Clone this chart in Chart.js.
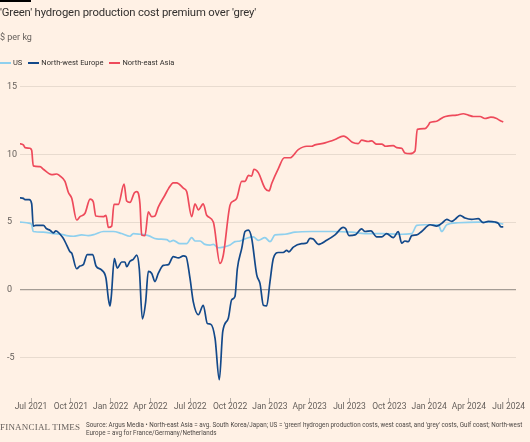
<!DOCTYPE html>
<html>
<head>
<meta charset="utf-8">
<script src="https://cdn.jsdelivr.net/npm/chart.js@4"></script>
<style>
  body { margin: 0; background: #fff1e5; font-family: Roboto, "Noto Sans", sans-serif; }
  #wrap { position: relative; width: 530px; height: 442px; overflow: hidden; }
  #chart { position: absolute; left: 0; top: 0; }
  .bar { position: absolute; left: 0; top: 0; width: 31px; height: 2px; background: #000; }
  .title { position: absolute; left: 0; top: 6px; font-size: 11.3px; letter-spacing: -0.15px; color: #33302e; white-space: nowrap; }
  .sub { position: absolute; left: 0; top: 32px; font-size: 9px; color: #66605c; }
  .legend { position: absolute; left: 0; top: 58px; font-size: 7.5px; color: #33302e; display: flex; }
  .legend span { display: flex; align-items: center; margin-right: 6px; }
  .legend i { display: inline-block; width: 11px; height: 2px; margin-right: 2px; }
  .ft { position: absolute; left: 0; top: 422px; font-family: "Liberation Serif", "DejaVu Serif", serif; font-size: 9px; color: #66605c; letter-spacing: 0.2px; }
  .src { position: absolute; left: 86px; top: 421px; font-size: 6.3px; line-height: 8px; color: #4d4845; white-space: nowrap; }
</style>
</head>
<body>
<div id="wrap">
  <canvas id="chart" width="530" height="442"></canvas>
  <div class="bar"></div>
  <div class="title">'Green' hydrogen production cost premium over 'grey'</div>
  <div class="sub">$ per kg</div>
  <div class="legend" id="legend"></div>
  <div class="ft">FINANCIAL TIMES</div>
  <div class="src">Source: Argus Media • North-east Asia = avg. South Korea/Japan; US = 'green' hydrogen production costs, west coast, and 'grey' costs, Gulf coast; North-west<br>Europe = avg for France/Germany/Netherlands</div>
</div>
<script>
// x values are months since 1 Jul 2021
const tickMonths = [0, 3, 6, 9, 12, 15, 18, 21, 24, 27, 30, 33, 36];
const tickLabels = ["Jul 2021", "Oct 2021", "Jan 2022", "Apr 2022", "Jul 2022", "Oct 2022", "Jan 2023",
  "Apr 2023", "Jul 2023", "Oct 2023", "Jan 2024", "Apr 2024", "Jul 2024"];

const usMonths = [-0.9, -0.08, 0.05, 0.17, 0.93, 1.68, 2.31, 2.69, 3.19, 3.82, 4.32, 4.82, 5.45, 6.2, 6.83,
  7.46, 7.71, 8.21, 8.84, 9.47, 10.23, 10.47, 10.72, 11.23, 11.73, 12.11, 12.36, 12.74, 13.11, 13.49, 13.74,
  14.11, 14.49, 15.0, 15.37, 15.75, 16.25, 16.75, 17.13, 17.63, 18.01, 18.39, 19.14, 19.89, 21.15, 22.66,
  24.17, 25.17, 26.43, 27.68, 28.69, 29.07, 29.69, 30.69, 30.95, 31.33, 32.2, 33.71, 34.72, 35.59];
const usValues = [5.0, 4.9, 4.8, 4.3, 4.25, 4.15, 4.1, 4.0, 3.95, 4.05, 4.0, 4.1, 4.3, 4.3, 4.15,
  3.95, 4.15, 4.1, 4.0, 3.75, 3.7, 3.55, 3.65, 3.4, 3.4, 3.85, 3.6, 3.6, 3.35, 3.3, 3.35,
  3.1, 3.15, 3.3, 3.55, 3.6, 3.8, 3.9, 3.65, 3.85, 3.55, 4.05, 4.1, 4.25, 4.3, 4.3,
  4.25, 4.15, 4.15, 4.1, 4.15, 4.75, 4.8, 4.8, 4.3, 4.8, 4.95, 5.0, 5.0, 4.85];

const nweMonths = [-0.9, -0.58, -0.45, -0.13, 0.05, 0.17, 0.35, 0.93, 1.18, 1.43, 1.68, 1.88, 2.19, 2.43, 2.69,
  2.94, 3.07, 3.44, 3.69, 3.94, 4.24, 4.65, 4.9, 5.33, 5.65, 5.83, 5.95, 6.05, 6.28, 6.5, 6.83, 7.08, 7.21,
  7.46, 7.71, 7.97, 8.16, 8.39, 8.64, 8.84, 9.1, 9.34, 9.59, 9.97, 10.35, 10.72, 11.1, 11.48, 11.68, 11.98,
  12.23, 12.61, 12.98, 13.29, 13.54, 13.87, 14.19, 14.45, 14.87, 15.12, 15.37, 15.55, 15.88, 16.13, 16.38,
  16.63, 17.01, 17.26, 17.51, 17.76, 18.01, 18.26, 18.64, 19.01, 19.27, 19.44, 19.77, 20.4, 20.78, 21.02,
  21.27, 21.65, 22.28, 22.91, 23.53, 23.72, 23.96, 24.42, 24.92, 25.17, 25.62, 26.05, 26.43, 26.8, 27.3,
  27.68, 27.93, 28.18, 28.43, 28.69, 29.07, 29.44, 30.07, 30.57, 30.95, 31.33, 31.7, 31.95, 32.33, 32.71,
  33.21, 33.71, 34.08, 34.46, 34.97, 35.22, 35.42, 35.59];
const nweValues = [6.8, 6.75, 6.65, 6.65, 6.35, 4.7, 4.75, 4.75, 4.5, 4.4, 4.2, 4.35, 4.1, 3.8, 3.3,
  2.8, 2.7, 1.55, 1.75, 1.85, 2.6, 2.6, 1.75, 1.45, 0.85, -0.65, -1.2, -0.5, 2.3, 1.6, 2.05, 2.05, 1.7,
  2.1, 2.25, 2.55, 1.55, -2.15, -0.9, 1.35, 1.2, 0.6, 1.2, 1.8, 1.85, 2.45, 2.35, 2.5, 2.45, 0.85,
  -0.9, -1.85, -1.15, -2.5, -2.55, -3.6, -6.65, -3.1, -2.1, -0.75, -0.5, 1.55, 3.05, 4.3, 4.4,
  3.8, 1.1, 0.45, -1.15, -1.2, 0.6, 2.3, 2.75, 2.75, 2.9, 2.8, 3.15, 3.4, 3.45, 3.8,
  3.75, 3.35, 3.65, 4.05, 4.6, 4.5, 4.0, 4.05, 4.5, 4.3, 4.35, 3.9, 3.9, 4.15, 3.85,
  4.3, 3.45, 3.6, 3.55, 4.0, 4.05, 4.3, 4.8, 4.7, 4.9, 5.2, 5.05, 5.2, 5.5, 5.3,
  5.2, 5.25, 4.95, 5.05, 5.0, 4.9, 4.65, 4.65];

const neaMonths = [-0.9, -0.58, -0.45, -0.08, 0.05, 0.17, 0.68, 0.93, 1.56, 1.94, 2.19, 2.56, 2.81, 3.07, 3.44,
  3.69, 4.07, 4.45, 4.69, 4.88, 5.45, 5.65, 5.83, 6.08, 6.25, 6.58, 7.01, 7.21, 7.46, 7.78, 7.97, 8.21, 8.34,
  8.59, 8.84, 9.1, 9.34, 9.59, 10.1, 10.35, 10.72, 10.98, 11.48, 11.73, 12.11, 12.36, 12.61, 12.98, 13.24,
  13.74, 14.24, 14.49, 15.0, 15.25, 15.5, 15.88, 16.13, 16.38, 16.63, 16.8, 17.13, 17.63, 17.94, 18.14,
  18.64, 19.09, 19.52, 20.14, 20.78, 21.15, 21.4, 22.16, 22.91, 23.53, 23.79, 24.21, 24.66, 24.92, 25.42,
  25.67, 26.05, 26.43, 26.73, 27.3, 27.56, 27.93, 28.18, 28.56, 28.94, 29.11, 29.69, 29.94, 30.07, 30.57,
  31.07, 31.45, 32.08, 32.58, 32.95, 33.33, 33.84, 34.21, 34.66, 35.09, 35.34, 35.59];
const neaValues = [10.8, 10.7, 10.5, 10.45, 10.3, 9.15, 9.1, 8.9, 8.5, 8.55, 8.4, 8.0, 7.2, 6.75, 5.15,
  5.4, 5.65, 6.7, 6.5, 5.45, 5.4, 5.5, 4.6, 4.7, 6.3, 6.3, 7.8, 6.55, 6.45, 7.15, 7.25, 6.35, 4.05,
  4.0, 5.75, 5.4, 5.45, 6.1, 7.0, 7.45, 7.9, 7.9, 7.5, 7.25, 5.4, 6.35, 5.9, 6.35, 5.5,
  5.0, 1.95, 2.55, 6.25, 6.55, 6.75, 8.0, 8.0, 8.45, 8.4, 8.9, 8.65, 7.5, 7.3, 7.85,
  8.95, 9.75, 9.75, 10.35, 10.6, 10.6, 10.7, 10.85, 11.1, 11.35, 11.25, 10.9, 10.8, 11.05, 10.95,
  11.0, 10.75, 10.75, 10.6, 10.65, 10.5, 10.45, 10.1, 10.05, 10.25, 11.85, 11.9, 12.15, 12.35, 12.45,
  12.75, 12.85, 12.9, 13.0, 12.9, 12.8, 12.8, 12.65, 12.75, 12.65, 12.5, 12.4];

const series = [
  { label: "US", months: usMonths, values: usValues, color: "#8fd0ee", order: 3 },
  { label: "North-west Europe", months: nweMonths, values: nweValues, color: "#13498a", order: 2 },
  { label: "North-east Asia", months: neaMonths, values: neaValues, color: "#ee4a5b", order: 1 },
];

const legend = document.getElementById("legend");
series.forEach(s => {
  const item = document.createElement("span");
  item.innerHTML = '<i style="background:' + s.color + '"></i>' + s.label;
  legend.appendChild(item);
});

const ctx = document.getElementById("chart").getContext("2d");
new Chart(ctx, {
  type: "line",
  data: {
    datasets: series.map(s => ({
      label: s.label,
      data: s.months.map((m, i) => ({ x: m, y: s.values[i] })),
      borderColor: s.color,
      borderWidth: 1.7,
      pointRadius: 0,
      cubicInterpolationMode: "monotone",
      order: s.order,
    })),
  },
  options: {
    responsive: false,
    devicePixelRatio: 1,
    animation: false,
    layout: { padding: { left: 7, top: 86.7, right: 14, bottom: 24 } },
    plugins: { legend: { display: false }, tooltip: { enabled: false } },
    scales: {
      x: {
        type: "linear",
        min: -0.83,
        max: 36.55,
        afterBuildTicks: (scale) => { scale.ticks = tickMonths.map(v => ({ value: v })); },
        afterFit: (scale) => { scale.height = 20; },
        border: { display: false },
        grid: { drawOnChartArea: false, drawTicks: true, tickLength: 4, color: "#b9b0a8" },
        ticks: {
          padding: 0,
          maxRotation: 0,
          autoSkip: false,
          color: "#66605c",
          font: { family: "Roboto", size: 8.5 },
          callback: (v) => tickLabels[tickMonths.indexOf(v)],
        },
      },
      y: {
        min: -8,
        max: 15,
        afterBuildTicks: (scale) => { scale.ticks = [-5, 0, 5, 10, 15].map(v => ({ value: v })); },
        afterFit: (scale) => { scale.width = 13; },
        border: { display: false },
        grid: {
          drawTicks: false,
          color: (c) => (c.tick && c.tick.value === 0 ? "#a59d95" : "#e8dbcf"),
          lineWidth: (c) => (c.tick && c.tick.value === 0 ? 1.3 : 1),
        },
        ticks: {
          crossAlign: "far",
          padding: 0,
          color: "#66605c",
          font: { family: "Roboto", size: 9 },
        },
      },
    },
  },
});
</script>
</body>
</html>
